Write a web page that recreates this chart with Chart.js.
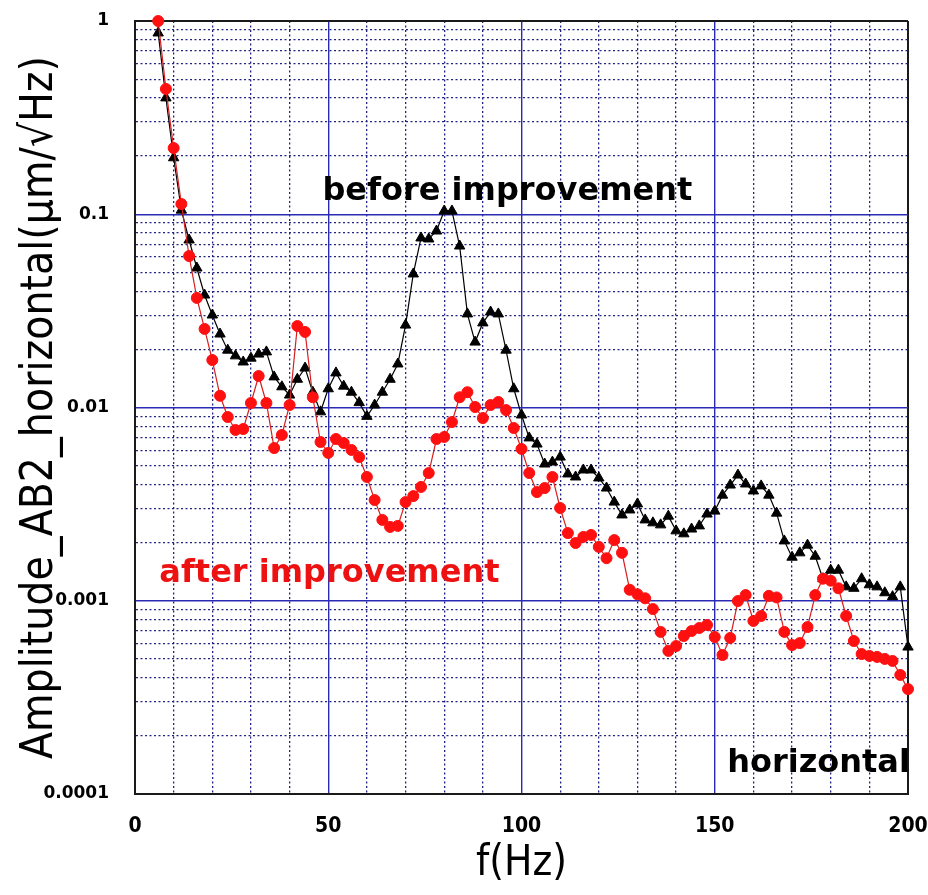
<!DOCTYPE html>
<html lang="en">
<head>
<meta charset="UTF-8">
<title>Amplitude AB2 horizontal</title>
<script src="https://cdn.jsdelivr.net/npm/chart.js"></script>
<style>
  html, body { margin: 0; padding: 0; background: #fff; }
  #wrap { width: 928px; height: 895px; }
</style>
</head>
<body>
<div id="wrap"><canvas id="ampChart"></canvas></div>
<script>
// frequency axis (Hz)
const freq = [6, 8, 10, 12, 14, 16, 18, 20, 22, 24, 26, 28, 30, 32, 34, 36, 38, 40, 42, 44,
  46, 48, 50, 52, 54, 56, 58, 60, 62, 64, 66, 68, 70, 72, 74, 76, 78, 80, 82, 84,
  86, 88, 90, 92, 94, 96, 98, 100, 102, 104, 106, 108, 110, 112, 114, 116, 118, 120, 122, 124,
  126, 128, 130, 132, 134, 136, 138, 140, 142, 144, 146, 148, 150, 152, 154, 156, 158, 160, 162, 164,
  166, 168, 170, 172, 174, 176, 178, 180, 182, 184, 186, 188, 190, 192, 194, 196, 198, 200];

// before improvement (black triangles), um/sqrt(Hz)
const beforeAmp = [0.867, 0.40, 0.196, 0.105, 0.0736, 0.0527, 0.0382, 0.0301, 0.0240, 0.0198,
  0.0185, 0.0172, 0.0180, 0.0189, 0.0194, 0.0144, 0.0128, 0.0116, 0.0140, 0.0160,
  0.0120, 0.0095, 0.0125, 0.0151, 0.0129, 0.0120, 0.0106, 0.0090, 0.0103, 0.0120,
  0.0140, 0.0168, 0.0267, 0.0491, 0.0754, 0.0745, 0.0819, 0.104, 0.104, 0.0685,
  0.0305, 0.0218, 0.0274, 0.0312, 0.0305, 0.0198, 0.0125, 0.00915, 0.00696, 0.00647,
  0.0051, 0.00522, 0.00554, 0.00453, 0.00437, 0.00475, 0.00475, 0.00432, 0.00383, 0.00324,
  0.00278, 0.00295, 0.00317, 0.00262, 0.00253, 0.00247, 0.00274, 0.0023, 0.00222, 0.00235,
  0.00244, 0.00281, 0.00291, 0.00352, 0.00397, 0.00447, 0.00402, 0.0037, 0.00393, 0.00352,
  0.00284, 0.00204, 0.00168, 0.00177, 0.00194, 0.0017, 0.0013, 0.00144, 0.00144, 0.00118,
  0.00116, 0.0013, 0.00121, 0.00118, 0.0011, 0.00105, 0.00118, 0.000576];

// after improvement (red circles)
const afterAmp = [1.0, 0.445, 0.220, 0.113, 0.0608, 0.0369, 0.0255, 0.0176, 0.0115, 0.00893,
  0.00765, 0.00774, 0.01055, 0.01455, 0.01055, 0.00617, 0.00721, 0.0103, 0.0264, 0.0246,
  0.0113, 0.00663, 0.00582, 0.00687, 0.00655, 0.00603, 0.00554, 0.00437, 0.00332, 0.00262,
  0.00241, 0.00244, 0.00324, 0.00348, 0.00388, 0.00458, 0.00687, 0.00704, 0.00841, 0.0113,
  0.0120, 0.01006, 0.00882, 0.0103, 0.01068, 0.0097, 0.00783, 0.0061, 0.00458, 0.00365,
  0.00383, 0.00437, 0.00302, 0.00224, 0.00199, 0.00214, 0.00219, 0.0019, 0.00166, 0.00206,
  0.00177, 0.00114, 0.00108, 0.00103, 0.000906, 0.00069, 0.00055, 0.000583, 0.000657, 0.000697,
  0.000723, 0.000749, 0.000649, 0.000524, 0.000642, 0.000997, 0.00107, 0.000786, 0.000834, 0.00106,
  0.00104, 0.00069, 0.00059, 0.000604, 0.000731, 0.00107, 0.0013, 0.00127, 0.00116, 0.000834,
  0.000619, 0.00053, 0.000518, 0.000512, 0.0005, 0.000488, 0.000413, 0.000349];

const xTickLabels = [0, 50, 100, 150, 200];
const yDecades = [0.0001, 0.001, 0.01, 0.1, 1];
const yTickLabels = ['0.0001', '0.001', '0.01', '0.1', '1'];

// text notes placed in data coordinates
const notes = [
  { text: 'before improvement', f: 48.5, amp: 0.118, color: '#000', align: 'left' },
  { text: 'after improvement', f: 6.3, amp: 0.00125, color: '#ee1111', align: 'left' },
  { text: 'horizontal', f: 200.5, amp: 0.00013, color: '#000', align: 'right' }
];

const FRAME = '#1a1a1a';
const MAJOR = '#2a2ab4';
const MINOR = '#22227e';

function decadeIndex(v) {
  return yDecades.findIndex(d => Math.abs(d - v) / d < 1e-6);
}
function yKind(v) {
  if (v <= 0.0001 * 1.000001 || v >= 0.999999) return 'frame';
  return decadeIndex(v) >= 0 ? 'major' : 'minor';
}
function xKind(v) {
  if (v === 0 || v === 200) return 'frame';
  return v % 50 === 0 ? 'major' : 'minor';
}
const kindColor = k => k === 'frame' ? FRAME : (k === 'major' ? MAJOR : MINOR);
const kindWidth = k => k === 'frame' ? 2 : (k === 'major' ? 1.4 : 1.3);

const notesPlugin = {
  id: 'notes',
  afterDatasetsDraw(chart) {
    const { ctx, scales: { x, y } } = chart;
    ctx.save();
    ctx.font = 'bold 32px "DejaVu Sans", sans-serif';
    ctx.textBaseline = 'alphabetic';
    notes.forEach(n => {
      ctx.fillStyle = n.color;
      ctx.textAlign = n.align;
      ctx.fillText(n.text, x.getPixelForValue(n.f), y.getPixelForValue(n.amp));
    });
    ctx.restore();
  }
};

new Chart(document.getElementById('ampChart'), {
  type: 'line',
  data: {
    datasets: [
      {
        label: 'after improvement',
        data: freq.map((f, i) => ({ x: f, y: afterAmp[i] })),
        borderColor: '#d81e1e',
        borderWidth: 1.2,
        backgroundColor: '#ff1010',
        pointBackgroundColor: '#ff1010',
        pointBorderColor: '#ff1010',
        pointStyle: 'circle',
        pointRadius: 5.5,
        pointBorderWidth: 1,
        tension: 0,
        clip: false
      },
      {
        label: 'before improvement',
        data: freq.map((f, i) => ({ x: f, y: beforeAmp[i] })),
        borderColor: '#000',
        borderWidth: 1.2,
        backgroundColor: '#000',
        pointBackgroundColor: '#000',
        pointBorderColor: '#000',
        pointStyle: 'triangle',
        pointRadius: 6,
        pointBorderWidth: 1,
        tension: 0,
        clip: false
      }
    ]
  },
  options: {
    responsive: true,
    maintainAspectRatio: false,
    animation: false,
    layout: { padding: { top: 21, right: 20, left: 0, bottom: 0 } },
    plugins: {
      legend: { display: false },
      tooltip: { enabled: false }
    },
    scales: {
      x: {
        type: 'linear',
        min: 0,
        max: 200,
        afterFit: s => {
          s.height = 101;
          s.paddingLeft = 0;
          s.paddingRight = 0;
        },
        ticks: {
          stepSize: 10,
          autoSkip: false,
          maxRotation: 0,
          padding: 20,
          color: '#000',
          font: { family: '"DejaVu Sans Condensed", "DejaVu Sans", sans-serif', size: 21, weight: 'bold' },
          callback: v => xTickLabels.includes(v) ? String(v) : ''
        },
        grid: {
          drawTicks: false,
          color: c => kindColor(xKind(c.tick ? c.tick.value : 0)),
          lineWidth: c => kindWidth(xKind(c.tick ? c.tick.value : 0))
        },
        border: {
          display: true,
          color: FRAME,
          width: 2,
          dash: c => (c.tick && xKind(c.tick.value) === 'minor') ? [2, 2.5] : []
        },
        title: {
          display: true,
          text: 'f(Hz)',
          color: '#000',
          font: { family: '"DejaVu Sans Condensed", "DejaVu Sans", sans-serif', size: 42 },
          padding: { top: 0, bottom: 6 }
        }
      },
      y: {
        type: 'logarithmic',
        min: 0.0001,
        max: 1,
        afterBuildTicks: scale => {
          const ticks = [];
          yDecades.forEach((d, i) => {
            if (i === yDecades.length - 1) { ticks.push({ value: d }); return; }
            for (let m = 1; m <= 9; m++) ticks.push({ value: m * d });
          });
          scale.ticks = ticks;
        },
        afterFit: s => {
          s.width = 135;
          s.paddingTop = 0;
          s.paddingBottom = 0;
        },
        ticks: {
          autoSkip: false,
          padding: 26,
          color: '#000',
          font: { family: '"DejaVu Sans", sans-serif', size: 17, weight: 'bold' },
          callback: v => {
            const i = decadeIndex(v);
            return i >= 0 ? yTickLabels[i] : '';
          }
        },
        grid: {
          drawTicks: false,
          color: c => kindColor(yKind(c.tick ? c.tick.value : 1)),
          lineWidth: c => kindWidth(yKind(c.tick ? c.tick.value : 1))
        },
        border: {
          display: true,
          color: FRAME,
          width: 2,
          dash: c => (c.tick && yKind(c.tick.value) === 'minor') ? [2, 2.5] : []
        },
        title: {
          display: true,
          text: 'Amplitude_AB2_horizontal(\u03bcm/\u221aHz)',
          color: '#000',
          font: { family: '"DejaVu Sans Condensed", "DejaVu Sans", sans-serif', size: 44 },
          padding: { top: 14, bottom: 0 }
        }
      }
    }
  },
  plugins: [notesPlugin]
});
</script>
</body>
</html>
